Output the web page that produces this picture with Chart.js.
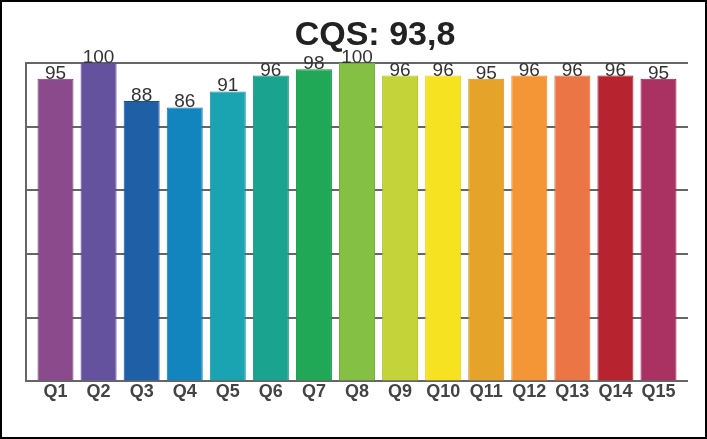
<!DOCTYPE html>
<html>
<head>
<meta charset="utf-8">
<script src="https://cdn.jsdelivr.net/npm/chart.js@4.4.0/dist/chart.umd.min.js"></script>
<style>
  html, body { margin: 0; padding: 0; background: #fff; }
  #wrap { width: 707px; height: 439px; box-sizing: border-box; border: 2px solid #000; position: relative; }
  #chart { display: block; }
</style>
</head>
<body>
<div id="wrap"><canvas id="chart" width="703" height="435"></canvas></div>
<script>
// 데이터
const categories = ['Q1', 'Q2', 'Q3', 'Q4', 'Q5', 'Q6', 'Q7', 'Q8', 'Q9', 'Q10', 'Q11', 'Q12', 'Q13', 'Q14', 'Q15'];
const scores = [95, 100, 88, 86, 91, 96, 98, 100, 96, 96, 95, 96, 96, 96, 95];
const barColors = ['#8a4a8b', '#64529f', '#1e5fa6', '#1385be', '#1aa3b1', '#1aa48f', '#20a857', '#84c044',
  '#c4d338', '#f6e221', '#e6a32a', '#f59636', '#eb7545', '#b7242f', '#a93262'];
const edgeColors = ['#7a3a7b', '#54429a', '#1050a0', '#0a75b0', '#1093a2', '#0f9480', '#109848', '#74b034',
  '#b4c328', '#e6d210', '#da9318', '#ea8624', '#dc6535', '#a8141f', '#991e50'];
const titleText = 'CQS: 93,8';

const FONT = '"Liberation Sans", Arial, sans-serif';

// 막대 위 값 표시
const valueLabels = {
  id: 'valueLabels',
  afterDatasetsDraw(chart) {
    const ctx = chart.ctx;
    const meta = chart.getDatasetMeta(0);
    ctx.save();
    ctx.font = '19px ' + FONT;
    ctx.fillStyle = '#333';
    ctx.textAlign = 'center';
    ctx.textBaseline = 'alphabetic';
    meta.data.forEach((bar, i) => {
      ctx.fillText(String(scores[i]), bar.x, bar.y);
    });
    ctx.restore();
  }
};

// 제목을 오른쪽으로 조금 이동
const titleShift = {
  id: 'titleShift',
  afterLayout(chart) {
    if (chart.titleBlock) {
      chart.titleBlock.left += 18;
      chart.titleBlock.right += 18;
    }
  }
};

const ctx = document.getElementById('chart').getContext('2d');
new Chart(ctx, {
  type: 'bar',
  data: {
    labels: categories,
    datasets: [{
      data: scores,
      backgroundColor: barColors,
      borderColor: edgeColors,
      borderWidth: 1,
      categoryPercentage: 1,
      barPercentage: 0.836
    }]
  },
  options: {
    responsive: false,
    animation: false,
    layout: { padding: { left: 24, right: 17, top: 0, bottom: 34 } },
    plugins: {
      legend: { display: false },
      tooltip: { enabled: false },
      title: {
        display: true,
        text: titleText,
        color: '#222',
        font: { family: FONT, size: 34, weight: 'bold' },
        padding: { top: 13, bottom: 7 }
      }
    },
    scales: {
      x: {
        grid: { display: false, drawTicks: false },
        border: { display: false },
        afterBuildTicks(axis) {
          // 양쪽 여백 (축 안쪽 약 8px)
          axis._startValue -= 0.185;
          axis._valueRange += 0.37;
        },
        ticks: {
          color: '#444',
          padding: 0,
          maxRotation: 0,
          autoSkip: false,
          font: { family: FONT, size: 18, weight: 'bold' }
        }
      },
      y: {
        min: 0,
        max: 100,
        ticks: { display: false, stepSize: 20 },
        grid: { color: '#666', lineWidth: 2, drawTicks: false },
        border: { display: true, color: '#666', width: 2 }
      }
    }
  },
  plugins: [valueLabels, titleShift]
});
</script>
</body>
</html>
